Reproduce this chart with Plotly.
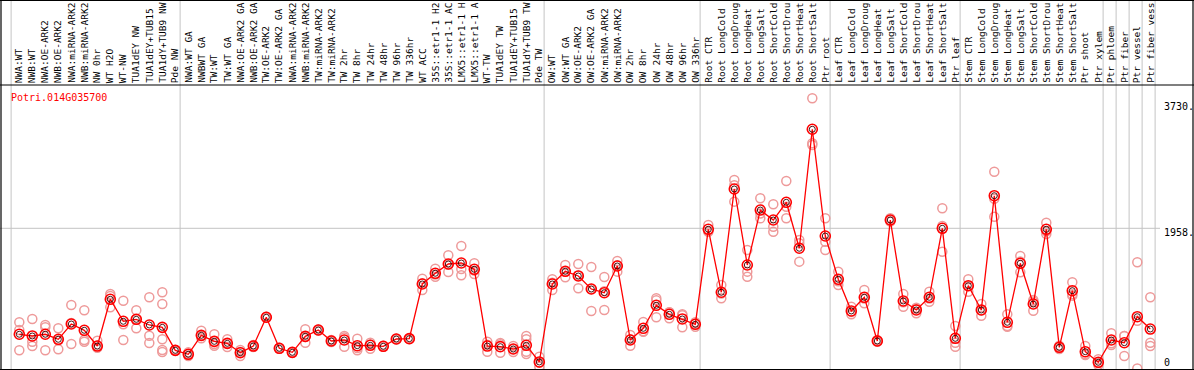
import plotly.graph_objects as go

categories = [
    "NWA:WT", "NWB:WT", "NWA:OE-ARK2", "NWB:OE-ARK2", "NWA:miRNA-ARK2", "NWB:miRNA-ARK2",
    "NW 0hr", "WT H2O", "WT-NW", "TUA1dEY NW", "TUA1dEY+TUB15", "TUA1dY+TUB9 NW", "Pde NW",
    "NWA:WT GA", "NWBWT GA", "TW:WT", "TW:WT GA", "NWA:OE-ARK2 GA", "NWB:OE-ARK2 GA",
    "TW:OE-ARK2", "TW:OE-ARK2 GA", "NWA:miRNA-ARK2", "NWB:miRNA-ARK2", "TW:miRNA-ARK2",
    "TW:miRNA-ARK2", "TW 2hr", "TW 8hr", "TW 24hr", "TW 48hr", "TW 96hr", "TW 336hr",
    "WT ACC", "35S::etr1-1 H2", "35S::etr1-1 AC", "LMX5::etr1-1 H", "LMX5::etr1-1 A",
    "WT-TW", "TUA1dEY TW", "TUA1dEY+TUB15", "TUA1dY+TUB9 TW", "Pde TW",
    "OW:WT", "OW:WT GA", "OW:OE-ARK2", "OW:OE-ARK2 GA", "OW:miRNA-ARK2", "OW:miRNA-ARK2",
    "OW 2hr", "OW 8hr", "OW 24hr", "OW 48hr", "OW 96hr", "OW 336hr",
    "Root CTR", "Root LongCold", "Root LongDroug", "Root LongHeat", "Root LongSalt",
    "Root ShortCold", "Root ShortDrou", "Root ShortHeat", "Root ShortSalt", "Ptr root",
    "Leaf CTR", "Leaf LongCold", "Leaf LongDroug", "Leaf LongHeat", "Leaf LongSalt",
    "Leaf ShortCold", "Leaf ShortDrou", "Leaf ShortHeat", "Leaf ShortSalt", "Ptr leaf",
    "Stem CTR", "Stem LongCold", "Stem LongDroug", "Stem LongHeat", "Stem LongSalt",
    "Stem ShortCold", "Stem ShortDrou", "Stem ShortHeat", "Stem ShortSalt", "Ptr shoot",
    "Ptr xylem", "Ptr phloem", "Ptr fiber", "Ptr vessel", "Ptr fiber vess",
]

mean_values = [
    462, 438, 462, 391, 607, 518, 296, 956, 645, 673, 593, 560, 235,
    179, 447, 362, 334, 202, 296, 702, 264, 207, 433, 522, 367, 381, 301, 306, 292, 395, 400,
    1172, 1323, 1454, 1468, 1379, 296, 287, 254, 306, 71,
    1172, 1351, 1285, 1101, 1049, 1426, 381, 546, 871, 744, 678, 603,
    1944, 1055, 2513, 1440, 2216, 2075, 2325, 1676, 3356, 1849,
    1238, 791, 984, 367, 2075, 932, 805, 984, 1958, 405,
    1148, 805, 2418, 631, 1464, 889, 1944, 278, 1077, 216, 66,
    381, 343, 710, 536,
]

replicates = [
    [631, 522, 236], [678, 357, 296], [593, 560, 236], [546, 377, 250], [875, 621, 325],
    [800, 381, 357], [371, 301, 272], [1031, 1003, 843], [936, 603, 381], [800, 673, 546],
    [984, 442, 339], [1055, 889, 391, 240, 212], [240, 230, 235],
    [207, 179, 155], [513, 442, 405], [462, 323, 301], [391, 335, 282], [240, 211, 155],
    [310, 296, 282], [702, 710, 695], [264, 270, 258], [207, 212, 202], [532, 424, 343],
    [522, 530, 515], [352, 381, 367], [438, 418, 287], [400, 267, 236], [343, 317, 258],
    [292, 300, 285], [395, 400, 390], [400, 405, 395], [1247, 1182, 1087],
    [1388, 1306, 1275], [1577, 1444, 1341], [1708, 1383, 1294], [1464, 1360, 1313],
    [357, 315, 216], [320, 339, 202], [296, 254, 212], [438, 391, 216, 184], [145, 60, 5],
    [1238, 1191, 1087], [1440, 1347, 1266], [1454, 1290, 1111], [1412, 1100, 791],
    [1271, 1071, 805], [1496, 1436, 1346], [452, 390, 301], [635, 505, 498],
    [970, 941, 702], [772, 772, 688], [744, 730, 560], [631, 609, 569],
    [2005, 1918, 1910], [1158, 1037, 970], [2640, 2565, 2334], [1652, 1346, 1275],
    [2382, 2167, 2099], [2297, 1981, 1910], [2626, 2263, 2099], [1793, 1746, 1487],
    [3793, 3158, 3134], [2099, 1769, 1652],
    [1346, 1210, 1158], [851, 778, 744], [1087, 966, 899], [380, 367, 355],
    [2099, 2072, 2054], [1031, 914, 851], [837, 820, 758], [1063, 967, 922],
    [2240, 1991, 1628], [579, 343, 287],
    [1238, 1143, 1063], [889, 802, 724], [2757, 2375, 2122], [744, 580, 569],
    [1567, 1488, 1337], [946, 926, 795], [2037, 1917, 1878], [301, 278, 254],
    [1196, 1028, 1007], [296, 183, 169], [109, 61, 28],
    [476, 335, 311], [438, 436, 155], [1478, 652, -20], [984, 343, 296],
]

group_starts = [0, 13, 41, 53, 63, 73, 84, 85, 86, 87, 88]
y_tick_labels = ["3730.", "1958.", "0"]
y_tick_values = [3730, 1958, 0]
gene_name = "Potri.014G035700"

W, H = 1194, 370
FONT = "DejaVu Sans Mono"
x_px0, x_step = 19.3, 13.0
xmin = -x_px0 / x_step
xmax = xmin + W / x_step
zero_px, k = 367.0, 0.07084
ymin = -(H - zero_px) / k
ymax = ymin + H / k

def py(p):
    return 1 - p / H

n = len(categories)
xs = list(range(n))

rx, ry = [], []
for i, reps in enumerate(replicates):
    for v in reps:
        rx.append(i)
        ry.append(v)

fig = go.Figure()
fig.add_trace(go.Scatter(
    x=rx, y=ry, mode="markers",
    marker=dict(symbol="circle-open", size=9, color="#ee9a9a", line=dict(width=1.5, color="#ee9a9a")),
    hoverinfo="skip", showlegend=False, cliponaxis=True,
))
fig.add_trace(go.Scatter(
    x=xs, y=mean_values, mode="lines+markers",
    line=dict(color="#ff0000", width=1.3),
    marker=dict(symbol="circle-open", size=10, color="#ff0000", line=dict(width=1.6, color="#ff0000")),
    showlegend=False,
))
fig.add_trace(go.Scatter(
    x=xs, y=mean_values, mode="markers",
    marker=dict(symbol="circle-open", size=6, color="#300000", line=dict(width=0.9, color="#300000")),
    showlegend=False, hoverinfo="skip",
))

shapes = []
grid = "#c4c4c4"
for g in group_starts:
    gx = g - 0.63
    shapes.append(dict(type="line", xref="x", yref="paper", x0=gx, x1=gx, y0=0, y1=1,
                       line=dict(color=grid, width=1), layer="below"))
shapes.append(dict(type="line", xref="paper", yref="y", x0=0, x1=1160 / W, y0=1958, y1=1958,
                   line=dict(color=grid, width=1), layer="below"))
# frame lines
for (x0, y0, x1, y1) in [(0, 85, W, 85), (0, 369.5, W, 369.5), (1, 0, 1, H), (1193, 0, 1193, H), (0, 0.5, W, 0.5)]:
    shapes.append(dict(type="line", xref="paper", yref="paper", x0=x0 / W, x1=x1 / W,
                       y0=py(y0), y1=py(y1), line=dict(color="black", width=1.2)))

annotations = []
for i, c in enumerate(categories):
    annotations.append(dict(x=i - 0.05, xref="x", y=py(84), yref="paper", text=c, textangle=-90,
                            xanchor="center", yanchor="bottom", showarrow=False, borderpad=0,
                            font=dict(family=FONT, size=9.5, color="black")))
annotations.append(dict(x=9 / W, xref="paper", y=py(97), yref="paper", text=gene_name,
                        xanchor="left", yanchor="middle", showarrow=False,
                        font=dict(family=FONT, size=10, color="#ff0000")))
for lab, v, cy in zip(y_tick_labels, y_tick_values, [107, 232.5, 362]):
    annotations.append(dict(x=1162 / W, xref="paper", y=py(cy), yref="paper", text=lab,
                            xanchor="left", yanchor="middle", showarrow=False,
                            font=dict(family=FONT, size=10, color="black")))

fig.update_layout(
    width=W, height=H, margin=dict(l=0, r=0, t=0, b=0),
    paper_bgcolor="white", plot_bgcolor="white",
    xaxis=dict(range=[xmin, xmax], visible=False, showgrid=False, zeroline=False),
    yaxis=dict(range=[ymin, ymax], visible=False, showgrid=False, zeroline=False),
    shapes=shapes, annotations=annotations, showlegend=False,
)

fig.write_html("out.html", config={"displayModeBar": False},
               post_script="document.body.style.margin='0px';document.body.style.overflow='hidden';")
